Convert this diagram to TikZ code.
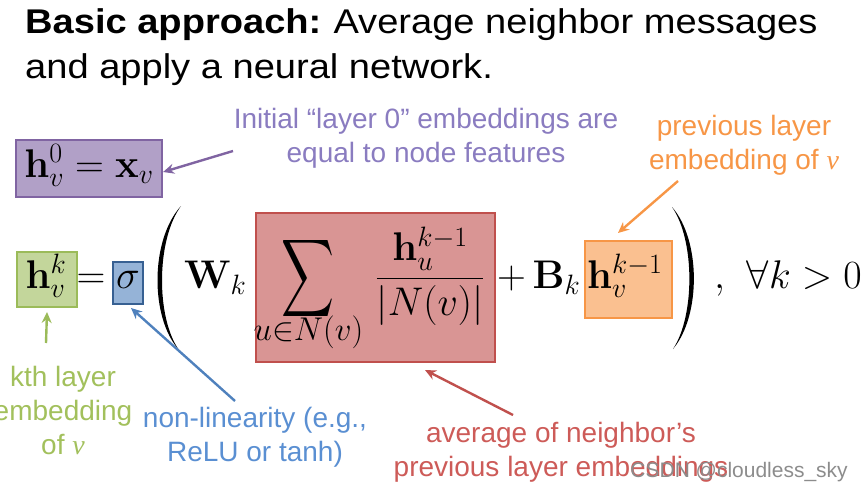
\RequirePackage{fix-cm}
\documentclass[tikz,border=0pt]{standalone}
\usepackage{amsmath}
\usepackage{exscale}
\usepackage{graphicx}
\usepackage[no-math]{fontspec}
\setmainfont{Liberation Sans}
\newfontfamily\titlefont[FakeStretch=1.11]{Liberation Sans}
\newfontfamily\vfont{Liberation Serif}
\usetikzlibrary{arrows.meta}
\definecolor{pfill}{HTML}{B1A0C7}
\definecolor{pdraw}{HTML}{8064A2}
\definecolor{ptext}{HTML}{8A7CC0}
\definecolor{gfill}{HTML}{C3D69B}
\definecolor{gdraw}{HTML}{9BBB59}
\definecolor{gtext}{HTML}{A2C05C}
\definecolor{bfill}{HTML}{95B3D7}
\definecolor{bdraw}{HTML}{376092}
\definecolor{btext}{HTML}{5A8FD2}
\definecolor{barrow}{HTML}{4F81BD}
\definecolor{rfill}{HTML}{D99594}
\definecolor{rdraw}{HTML}{C0504D}
\definecolor{rtext}{HTML}{CD5B58}
\definecolor{ofill}{HTML}{FAC090}
\definecolor{odraw}{HTML}{F79646}
\definecolor{otext}{HTML}{F79646}
\newcommand{\vv}{{\vfont\itshape v}}
\tikzset{
  hbox/.style={draw, line width=2.2pt, inner sep=0pt},
  eq/.style={anchor=base, inner sep=0pt, font=\fontsize{40}{48}\selectfont},
  note/.style={align=center, inner sep=0pt, font=\fontsize{28}{34}\selectfont},
  pointer/.style={line width=2.4pt, -{Stealth[length=11pt,width=10pt]}},
}
\begin{document}
\begin{tikzpicture}[x=1pt,y=-1pt]
\useasboundingbox (0,0) rectangle (863,493);
% title
\node[anchor=base west, inner sep=0pt, font=\fontsize{34.3}{45}\titlefont] (t1) at (25,33) {\textbf{Basic approach:}\hspace{-2pt} Average neighbor messages};
\node[anchor=base west, inner sep=0pt, font=\fontsize{34.3}{45}\titlefont] (t2) at (25,78) {and apply a neural network.};

% boxes
\node[hbox, fill=pfill, draw=pdraw, minimum width=146pt, minimum height=57pt] (b0) at (89,168.5) {};
\node[hbox, fill=gfill, draw=gdraw, minimum width=60pt, minimum height=55pt] (bk) at (47,279.5) {};
\node[hbox, fill=bfill, draw=bdraw, minimum width=30pt, minimum height=42pt] (bs) at (128,283) {};
\node[hbox, fill=rfill, draw=rdraw, minimum width=239pt, minimum height=149pt] (br) at (375.5,287.5) {};
\node[hbox, fill=ofill, draw=odraw, minimum width=87pt, minimum height=77pt] (bo) at (628.5,279.5) {};

% math
\node[eq] (m0) at (89,177) {$\mathbf{h}_v^0=\mathbf{x}_v$};
\node[eq] (mk) at (46,288) {$\mathbf{h}_v^k$};
\node[eq] (meq) at (91,288) {$=$};
\node[eq] (msig) at (128,288) {$\sigma$};
\node[eq, anchor=base west] (mW) at (184,288) {$\mathbf{W}_k$};
\node[inner sep=0pt] (msum) at (308.5,278.5) {\resizebox{53pt}{57pt}{$\displaystyle\sum$}};
\node[eq, font=\fontsize{47}{56}\selectfont] (mlim) at (308.5,340) {$\scriptstyle u\in N(v)$};
\node[eq] (mfrac) at (430,288) {$\displaystyle\frac{\mathbf{h}_u^{k-1}}{|N(v)|}$};
\node[eq, anchor=base west] (mB) at (497,288) {$+\,\mathbf{B}_k$};
\node[eq, anchor=base west] (mhv) at (587,288) {$\mathbf{h}_v^{k-1}$};
\node[eq, anchor=base west] (mc) at (714,288) {$,$};
\node[eq, anchor=base east] (mall) at (862,288) {$\forall k>0$};

% big parentheses
\fill (181,206) .. controls (150,240) and (150,318) .. (179,350)
      .. controls (156,318) and (156,240) .. (181,206) -- cycle;
\fill (672,207) .. controls (701,240) and (701,316) .. (673,349)
      .. controls (695,316) and (695,240) .. (672,207) -- cycle;

% annotations
\node[note, text=ptext] (n0) at (426,138) {Initial “layer 0” embeddings are\\equal to node features};
\node[note, text=otext] (no) at (744,145) {previous layer\\embedding of \vv};
\node[note, text=gtext] (nk) at (63,410) {kth layer\\embedding\\of \vv};
\node[note, text=btext] (ns) at (255,437) {non-linearity (e.g.,\\ReLU or tanh)};
\node[note, text=rtext] (nr) at (561,452) {average of neighbor’s\\previous layer embeddings};

\coordinate (p0) at (233,151);
\coordinate (po) at (678,181);
\coordinate (pk) at (46,343);
\coordinate (ps) at (235,401);
\coordinate (pr) at (513,415);
\draw[pointer, pdraw] (p0) -- (b0.east |- 0,172);
\draw[pointer, odraw] (po) -- (618,233);
\draw[pointer, gdraw] (pk) -- (bk.south |- 0,312);
\draw[pointer, barrow] (ps) -- (131,308);
\draw[pointer, rdraw] (pr) -- (425,370);

% watermark
\node[anchor=base east, inner sep=0pt, text=black!45, font=\fontsize{21}{24}\selectfont] (wm) at (848,477) {CSDN @cloudless\_sky};
\end{tikzpicture}
\end{document}
